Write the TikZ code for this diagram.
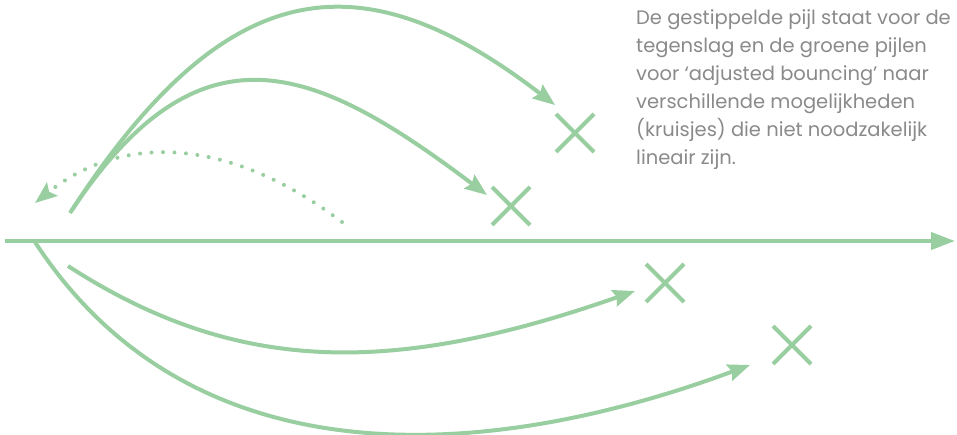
\documentclass[tikz,border=0pt]{standalone}
\usepackage{fontspec}
\setmainfont{Poppins}
\usetikzlibrary{arrows.meta,shapes.misc}
\definecolor{lichtgroen}{RGB}{152,206,160}
\definecolor{tekstgrijs}{RGB}{138,138,138}
\begin{document}
\begin{tikzpicture}[x=1pt,y=-1pt,
  lijn/.style={lichtgroen,line width=4pt},
  pijl/.style={lijn,-{Stealth[length=22pt,width=17pt,inset=3pt]}},
  kruis/.style={cross out,draw=lichtgroen,line width=4pt,minimum size=34pt,inner sep=0pt}]
\useasboundingbox (0,0) rectangle (957,434);
\coordinate (as0) at (5,241);
\coordinate (as1) at (955,241);
\draw[lijn,-{Triangle[length=24pt,width=17pt]}] (as0)--(as1);
\node[kruis] (k1) at (575,133) {};
\node[kruis] (k2) at (511,206) {};
\node[kruis] (k3) at (665,283) {};
\node[kruis] (k4) at (792,345) {};
\coordinate (b1) at (70,213);
\coordinate (b2) at (72,210);
\coordinate (b3) at (35,242);
\coordinate (b4) at (68,266);
\coordinate (e1) at (555,105);
\coordinate (e2) at (487,195);
\coordinate (e3) at (750,365);
\coordinate (e4) at (635,291);
\draw[pijl] (b1) .. controls (225,-27) and (360,-45) .. (e1);
\draw[pijl] (b2) .. controls (202,15) and (317,67) .. (e2);
\draw[pijl] (b3) .. controls (190,480) and (480,465) .. (e3);
\draw[pijl] (b4) .. controls (238,376) and (395,375) .. (e4);
% gestippelde pijl
\coordinate (s0) at (342,222);
\coordinate (s1) at (35,203);
\draw[lijn,line cap=round,dash pattern=on 0pt off 11.5pt,
  -{Stealth[length=22pt,width=17pt,inset=4pt]}] (s0) .. controls (232,139) and (125,131) .. (s1);
\node[tekstgrijs,anchor=north west,align=left,inner sep=0pt,
  font=\fontsize{19.5}{28}\selectfont] (uitleg) at (636,9)
  {De gestippelde pijl staat voor de\\tegenslag en de groene pijlen\\voor ‘adjusted bouncing’ naar\\verschillende mogelijkheden\\(kruisjes) die niet noodzakelijk\\lineair zijn.};
\end{tikzpicture}
\end{document}
